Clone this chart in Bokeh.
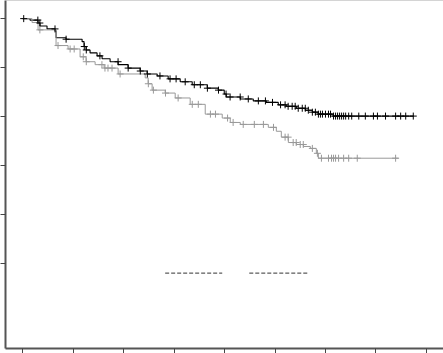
import numpy as np
from bokeh.plotting import figure
from bokeh.models import Range1d, FixedTicker, CustomJSTickFormatter, Span
from bokeh.embed import file_html
from bokeh.resources import INLINE

# Survival step curves (time, survival after step)
black_t = [0.0, 0.145, 0.304, 0.343, 0.482, 0.641, 0.661, 0.859, 1.177, 1.216, 1.256, 1.335, 1.474,
           1.573, 1.732, 1.891, 2.089, 2.327, 2.466, 2.665, 2.883, 3.121, 3.359, 3.657, 3.875, 3.994,
           4.034, 4.312, 4.569, 4.827, 5.065, 5.224, 5.423, 5.601, 5.740, 5.859, 6.157]
black_s = [1.0, 0.997, 0.991, 0.985, 0.979, 0.975, 0.961, 0.958, 0.953, 0.943, 0.936, 0.930, 0.924,
           0.918, 0.912, 0.906, 0.899, 0.893, 0.887, 0.883, 0.877, 0.871, 0.865, 0.858, 0.854, 0.846,
           0.840, 0.836, 0.832, 0.829, 0.824, 0.821, 0.817, 0.813, 0.809, 0.805, 0.801]
black_end = 7.744

gray_t = [0.0, 0.185, 0.304, 0.661, 0.899, 1.137, 1.256, 1.435, 1.613, 1.891, 2.427, 2.486, 2.565,
          2.823, 3.022, 3.319, 3.617, 3.954, 4.113, 4.312, 4.867, 5.026, 5.125, 5.264, 5.423, 5.562,
          5.700, 5.819, 5.859]
gray_s = [1.0, 0.992, 0.977, 0.945, 0.938, 0.922, 0.912, 0.906, 0.899, 0.887, 0.879, 0.867, 0.854,
          0.848, 0.838, 0.825, 0.805, 0.797, 0.788, 0.784, 0.778, 0.770, 0.758, 0.747, 0.743, 0.739,
          0.735, 0.725, 0.715]
gray_end = 7.446

# Censoring times
black_cens = [0.02, 0.30, 0.34, 0.64, 0.86, 1.22, 1.26, 1.53, 1.89, 2.09, 2.33, 2.47, 2.72, 2.92, 3.04,
              3.22, 3.40, 3.52, 3.66, 3.88, 4.03, 4.11, 4.31, 4.47, 4.67, 4.81, 4.95, 5.11, 5.20, 5.26,
              5.34, 5.40, 5.46, 5.54, 5.60, 5.66, 5.74, 5.80, 5.86, 5.90, 5.94, 6.00, 6.06, 6.10, 6.16,
              6.20, 6.24, 6.28, 6.32, 6.36, 6.40, 6.46, 6.52, 6.66, 6.79, 6.95, 7.03, 7.19, 7.39, 7.49,
              7.59, 7.74]
gray_cens = [0.34, 0.70, 0.94, 1.02, 1.20, 1.26, 1.57, 1.63, 1.69, 1.77, 1.93, 2.49, 2.59, 2.83, 3.08,
             3.36, 3.48, 3.72, 3.82, 4.06, 4.17, 4.37, 4.59, 4.77, 4.97, 5.20, 5.26, 5.36, 5.42, 5.50,
             5.56, 5.74, 5.84, 5.92, 6.06, 6.12, 6.16, 6.20, 6.26, 6.36, 6.46, 6.63, 7.39]

x_ticks = [0, 1, 2, 3, 4, 5, 6, 7, 8]
y_ticks = [0.5, 0.6, 0.7, 0.8, 0.9, 1.0]

# reference dashed segments (level, start, end)
dash_level = 0.4804
dash_x0 = [2.823, 4.49]
dash_x1 = [3.954, 5.64]


def surv_at(ts, ss, t):
    idx = np.searchsorted(np.array(ts), t, side="right") - 1
    return ss[max(idx, 0)]


p = figure(width=443, height=353, output_backend="svg", toolbar_location=None,
           x_range=Range1d(-0.341, 8.339), y_range=Range1d(0.3265, 1.037),
           min_border_left=0, min_border_right=0, min_border_top=0, min_border_bottom=0)
p.background_fill_color = "white"
p.border_fill_color = "white"
p.outline_line_color = None
p.grid.visible = False

for ax, ticks in ((p.xaxis, x_ticks), (p.yaxis, y_ticks)):
    ax.ticker = FixedTicker(ticks=ticks)
    ax.formatter = CustomJSTickFormatter(code="return ''")
    ax.major_label_standoff = 0
    ax.major_tick_in = 0
    ax.major_tick_out = 5
    ax.minor_tick_in = 0
    ax.minor_tick_out = 0
    ax.axis_line_color = "#555555"
    ax.axis_line_width = 2
    ax.major_tick_line_color = "#444444"
    ax.major_tick_line_width = 1

p.add_layout(Span(location=1.037, dimension="width", line_color="#aaaaaa", line_width=1))

# step curves
p.step(black_t + [black_end], black_s + [black_s[-1]], mode="after", line_color="black", line_width=1.1)
p.step(gray_t + [gray_end], gray_s + [gray_s[-1]], mode="after", line_color="#999999", line_width=1.0)

p.scatter(black_cens, [surv_at(black_t, black_s, t) for t in black_cens], marker="cross", size=7,
          line_color="black", line_width=1.0)
p.scatter(gray_cens, [surv_at(gray_t, gray_s, t) for t in gray_cens], marker="cross", size=7,
          line_color="#999999", line_width=1.0)

p.segment(x0=dash_x0, y0=[dash_level] * 2, x1=dash_x1, y1=[dash_level] * 2,
          line_color="#333333", line_width=1, line_dash="4 2")

open("out.html", "w").write(file_html(p, INLINE))
